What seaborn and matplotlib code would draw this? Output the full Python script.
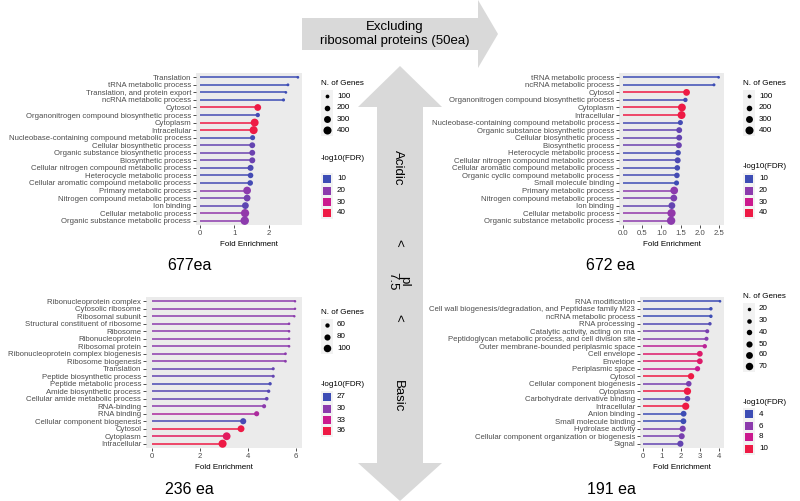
import numpy as np
import pandas as pd
import matplotlib
matplotlib.use("Agg")
import matplotlib.pyplot as plt
import seaborn as sns
from matplotlib.colors import LinearSegmentedColormap, Normalize
from matplotlib.patches import Polygon, Rectangle

# ---------------- data ----------------
# top left: acidic, all proteins (677ea)
tl_terms = ["Translation", "tRNA metabolic process", "Translation, and protein export",
            "ncRNA metabolic process", "Cytosol", "Organonitrogen compound biosynthetic process",
            "Cytoplasm", "Intracellular", "Nucleobase-containing compound metabolic process",
            "Cellular biosynthetic process", "Organic substance biosynthetic process",
            "Biosynthetic process", "Cellular nitrogen compound metabolic process",
            "Heterocycle metabolic process", "Cellular aromatic compound metabolic process",
            "Primary metabolic process", "Nitrogen compound metabolic process", "Ion binding",
            "Cellular metabolic process", "Organic substance metabolic process"]
tl_fold = [2.85, 2.56, 2.50, 2.43, 1.68, 1.68, 1.59, 1.56, 1.53, 1.52,
           1.52, 1.52, 1.47, 1.47, 1.46, 1.37, 1.37, 1.32, 1.31, 1.30]
tl_fdr = [8, 9, 8, 9, 42, 11, 45, 44, 11, 15, 16, 16, 12, 11, 11, 20, 17, 14, 21, 20]
tl_genes = [60, 65, 60, 75, 290, 130, 390, 400, 170, 220,
            220, 230, 230, 200, 200, 370, 290, 290, 420, 440]

# top right: acidic, excluding ribosomal proteins (672 ea)
tr_terms = ["tRNA metabolic process", "ncRNA metabolic process", "Cytosol",
            "Organonitrogen compound biosynthetic process", "Cytoplasm", "Intracellular",
            "Nucleobase-containing compound metabolic process",
            "Organic substance biosynthetic process", "Cellular biosynthetic process",
            "Biosynthetic process", "Heterocycle metabolic process",
            "Cellular nitrogen compound metabolic process",
            "Cellular aromatic compound metabolic process",
            "Organic cyclic compound metabolic process", "Small molecule binding",
            "Primary metabolic process", "Nitrogen compound metabolic process", "Ion binding",
            "Cellular metabolic process", "Organic substance metabolic process"]
tr_fold = [2.48, 2.36, 1.65, 1.62, 1.53, 1.52, 1.49, 1.46, 1.46, 1.45,
           1.43, 1.42, 1.41, 1.40, 1.39, 1.33, 1.32, 1.27, 1.26, 1.25]
tr_fdr = [8, 9, 42, 11, 44, 43, 11, 15, 15, 16, 11, 12, 11, 11, 10, 20, 18, 15, 21, 20]
tr_genes = [60, 70, 290, 130, 380, 390, 170, 220, 220, 230,
            200, 230, 200, 200, 170, 370, 290, 290, 420, 430]

# bottom left: basic, all proteins (236 ea)
bl_terms = ["Ribonucleoprotein complex", "Cytosolic ribosome", "Ribosomal subunit",
            "Structural constituent of ribosome", "Ribosome", "Ribonucleoprotein",
            "Ribosomal protein", "Ribonucleoprotein complex biogenesis", "Ribosome biogenesis",
            "Translation", "Peptide biosynthetic process", "Peptide metabolic process",
            "Amide biosynthetic process", "Cellular amide metabolic process", "RNA-binding",
            "RNA binding", "Cellular component biogenesis", "Cytosol", "Cytoplasm",
            "Intracellular"]
bl_fold = [5.96, 5.96, 5.93, 5.71, 5.71, 5.71, 5.71, 5.56, 5.56, 5.05,
           5.05, 4.92, 4.86, 4.78, 4.67, 4.36, 3.80, 3.71, 3.11, 2.94]
bl_fdr = [30, 30, 30, 30, 30, 30, 30, 30, 30, 28.5,
          28.5, 27.5, 28, 28.5, 30, 31.5, 27.5, 36, 35, 36]
bl_genes = [46, 46, 46, 47, 47, 47, 47, 48, 48, 50,
            50, 52, 52, 54, 58, 68, 80, 90, 105, 110]

# bottom right: basic, excluding ribosomal proteins (191 ea)
br_terms = ["RNA modification", "Cell wall biogenesis/degradation, and Peptidase family M23",
            "ncRNA metabolic process", "RNA processing", "Catalytic activity, acting on rna",
            "Peptidoglycan metabolic process, and cell division site",
            "Outer membrane-bounded periplasmic space", "Cell envelope", "Envelope",
            "Periplasmic space", "Cytosol", "Cellular component biogenesis", "Cytoplasm",
            "Carbohydrate derivative binding", "Intracellular", "Anion binding",
            "Small molecule binding", "Hydrolase activity",
            "Cellular component organization or biogenesis", "Signal"]
br_fold = [4.06, 3.58, 3.58, 3.53, 3.39, 3.35, 3.26, 3.00, 3.00, 2.88,
           2.54, 2.42, 2.35, 2.35, 2.26, 2.15, 2.14, 2.10, 2.05, 1.98]
br_fdr = [4, 4, 4, 4.5, 5.5, 5.8, 7.5, 9, 9, 8,
          10.5, 5.5, 10.5, 4.8, 10, 4, 4, 5.5, 5.5, 5]
br_genes = [14, 20, 20, 20, 25, 25, 28, 45, 45, 38,
            52, 42, 68, 42, 66, 45, 45, 50, 48, 50]

# colours of the -log10(FDR) legend keys, low -> high
fdr_colors = ["#3d4db5", "#8c3bad", "#cb1a8e", "#ee1a45"]
cmap = LinearSegmentedColormap.from_list("fdr", fdr_colors)

LABEL_GRAY = "#4d4d4d"
PANEL_BG = "#ebebeb"
ARROW_GRAY = "#d9d9d9"
FS = 5.6

plt.rcParams["font.family"] = ["Liberation Sans", "DejaVu Sans"]

W, H = 800, 501
fig = plt.figure(figsize=(8, 5.01), dpi=100)

# pixel overlay for arrows, titles and legends
ov = fig.add_axes([0, 0, 1, 1])
ov.set_xlim(0, W)
ov.set_ylim(H, 0)
ov.axis("off")

# horizontal arrow
ov.add_patch(Polygon([(302, 18), (478, 18), (478, 0), (498, 34), (478, 68), (478, 50), (302, 50)],
                     closed=True, facecolor=ARROW_GRAY, edgecolor="none"))
ov.text(395, 34, "Excluding\nribosomal proteins (50ea)", ha="center", va="center",
        fontsize=9.5, linespacing=1.25)

# vertical arrow
ov.add_patch(Polygon([(400, 66), (442, 107), (423, 107), (423, 463), (442, 463), (400, 501),
                      (358, 463), (377, 463), (377, 107), (358, 107)],
                     closed=True, facecolor=ARROW_GRAY, edgecolor="none"))
for txt, yy in [("Acidic", 168), ("<", 243), ("pI\n7.5", 281), ("<", 318), ("Basic", 396)]:
    ov.text(398, yy, txt, ha="center", va="center", rotation=-90, fontsize=9.5,
            linespacing=1.0)


def px_rect(x0, y0, x1, y1):
    return [x0 / W, 1 - y1 / H, (x1 - x0) / W, (y1 - y0) / H]


def lollipop(rect, terms, fold, fdr, genes, xlim, xticks, xticklabels,
             fdr_breaks, size_norm, sizes, title, title_xy):
    df = pd.DataFrame({"term": terms, "fold": fold, "fdr": fdr, "genes": genes})
    df["pos"] = np.arange(len(df))
    norm = Normalize(fdr_breaks[0], fdr_breaks[-1], clip=True)

    ax = fig.add_axes(px_rect(*rect))
    ax.set_facecolor(PANEL_BG)
    ax.hlines(df["pos"], 0, df["fold"], colors=cmap(norm(df["fdr"])), lw=1.1, zorder=2)
    sns.scatterplot(data=df, x="fold", y="pos", hue="fdr", palette=cmap, hue_norm=norm,
                    size="genes", sizes=sizes, size_norm=size_norm, linewidth=0,
                    legend=False, ax=ax, zorder=3)
    ax.set_xlim(*xlim)
    ax.set_ylim(len(df) - 0.43, -0.57)
    ax.set_yticks(df["pos"])
    ax.set_yticklabels(df["term"])
    ax.set_xticks(xticks)
    ax.set_xticklabels(xticklabels)
    ax.tick_params(labelsize=FS, labelcolor=LABEL_GRAY, length=2, width=0.6,
                   color="#333333", pad=1.5)
    ax.set_ylabel("")
    ax.set_xlabel("Fold Enrichment", fontsize=FS + 0.2, labelpad=3)
    for s in ax.spines.values():
        s.set_visible(False)
    ax.grid(False)
    ov.text(title_xy[0], title_xy[1], title, ha="center", va="center", fontsize=11.5)
    return norm


def legends(x, size_title_y, size_ys, gene_breaks, size_norm, sizes,
            col_title_y, col_ys, fdr_breaks, norm):
    ov.text(x, size_title_y, "N. of Genes", fontsize=FS + 0.2, va="center", ha="left")
    key_w = 12
    ov.add_patch(Rectangle((x, size_ys[0] - 6), key_w, size_ys[-1] - size_ys[0] + 12,
                           facecolor="#f2f2f2", edgecolor="none"))
    lo, hi = size_norm
    for b, yy in zip(gene_breaks, size_ys):
        s = sizes[0] + (b - lo) / (hi - lo) * (sizes[1] - sizes[0])
        ov.scatter([x + key_w / 2], [yy], s=s, color="black", linewidths=0)
        ov.text(x + key_w + 4, yy, str(b), fontsize=FS + 0.2, va="center", ha="left")

    ov.text(x, col_title_y, "-log10(FDR)", fontsize=FS + 0.2, va="center", ha="left")
    ov.add_patch(Rectangle((x, col_ys[0] - 6), key_w, col_ys[-1] - col_ys[0] + 12,
                           facecolor="#f2f2f2", edgecolor="none"))
    for b, yy in zip(fdr_breaks, col_ys):
        ov.add_patch(Rectangle((x + 2, yy - 4), 8, 8, facecolor=cmap(norm(b)), edgecolor="none"))
        ov.text(x + key_w + 4, yy, str(b), fontsize=FS + 0.2, va="center", ha="left")


# top left
tl_sizes, tl_snorm = (3.4, 38), (55, 450)
n = lollipop((196, 73, 302, 225), tl_terms, tl_fold, tl_fdr, tl_genes, (-0.12, 2.97),
             [0, 1, 2], ["0", "1", "2"], [10, 20, 30, 40], tl_snorm, tl_sizes,
             "677ea", (189, 265))
legends(321, 83, [96, 107.5, 119, 130], [100, 200, 300, 400], tl_snorm, tl_sizes,
        158, [179, 190.5, 202, 213], [10, 20, 30, 40], n)

# top right
n = lollipop((619, 73, 724, 225), tr_terms, tr_fold, tr_fdr, tr_genes, (-0.1, 2.62),
             [0, 0.5, 1, 1.5, 2, 2.5], ["0.0", "0.5", "1.0", "1.5", "2.0", "2.5"],
             [10, 20, 30, 40], tl_snorm, tl_sizes, "672 ea", (610, 265))
legends(743, 83, [96, 107.5, 119, 130], [100, 200, 300, 400], tl_snorm, tl_sizes,
        167, [179, 190.5, 202, 213], [10, 20, 30, 40], n)

# bottom left
bl_sizes, bl_snorm = (2.6, 34), (45, 110)
n = lollipop((146, 297, 302, 448), bl_terms, bl_fold, bl_fdr, bl_genes, (-0.25, 6.25),
             [0, 2, 4, 6], ["0", "2", "4", "6"], [27, 30, 33, 36], bl_snorm, bl_sizes,
             "236 ea", (189, 489))
legends(321, 313, [325, 337, 348], [60, 80, 100], bl_snorm, bl_sizes,
        384, [397, 408.5, 420, 431], [27, 30, 33, 36], n)

# bottom right
br_sizes, br_snorm = (2.8, 31), (12, 75)
n = lollipop((640, 297, 724, 448), br_terms, br_fold, br_fdr, br_genes, (-0.14, 4.27),
             [0, 1, 2, 3, 4], ["0", "1", "2", "3", "4"], [4, 6, 8, 10], br_snorm, br_sizes,
             "191 ea", (611, 490))
legends(743, 296, [309, 320.5, 332, 344, 355, 366], [20, 30, 40, 50, 60, 70],
        br_snorm, br_sizes, 402, [414, 426, 437, 449], [4, 6, 8, 10], n)

fig.savefig("out.png", dpi=100)
